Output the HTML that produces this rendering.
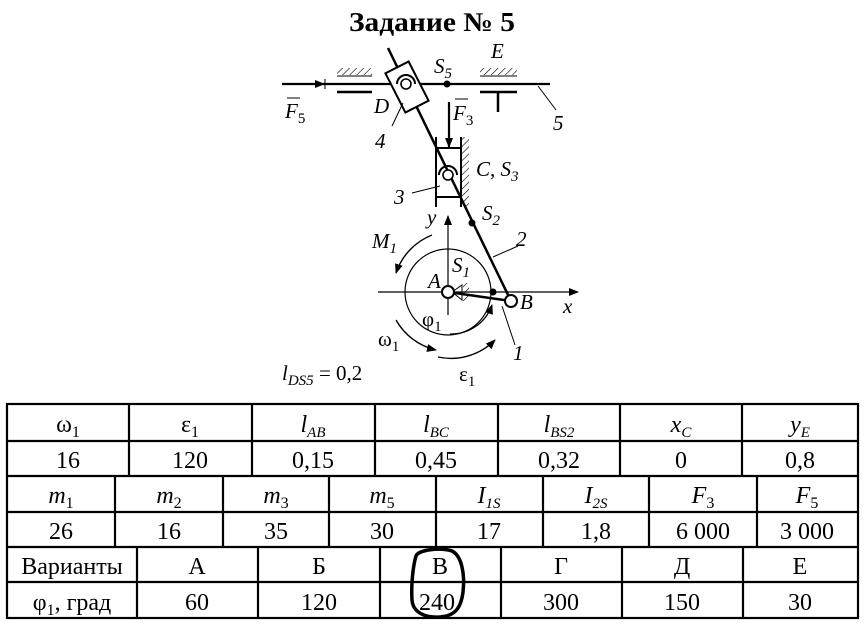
<!DOCTYPE html>
<html><head><meta charset="utf-8"><style>
body{margin:0;background:#fff}
svg{display:block}
text{font-family:"Liberation Serif",serif;fill:#000}
.t{font-size:24px;text-anchor:middle}
.i{font-style:italic}
.l{font-size:21px;font-style:italic}
</style></head><body>
<svg width="868" height="632" viewBox="0 0 868 632" xmlns="http://www.w3.org/2000/svg">
<defs>
<pattern id="h" width="5" height="5" patternUnits="userSpaceOnUse" patternTransform="rotate(45)"><line x1="0" y1="0" x2="0" y2="5" stroke="#000" stroke-width="1.2"/></pattern>
<marker id="a" markerWidth="10" markerHeight="8" refX="9" refY="4" orient="auto" markerUnits="userSpaceOnUse"><path d="M0,0 L10,4 L0,8 Z" fill="#000"/></marker>
</defs>
<text x="432" y="31" font-size="27" font-weight="bold" text-anchor="middle" textLength="166" lengthAdjust="spacingAndGlyphs">Задание № 5</text>

<g stroke="#000" fill="none">
<line x1="282" y1="84" x2="550" y2="84" stroke-width="2.2"/>
<line x1="282" y1="84" x2="324" y2="84" stroke-width="2" marker-end="url(#a)"/>
<line x1="325" y1="79" x2="325" y2="89" stroke-width="1"/>
<rect x="337" y="68" width="35" height="7" fill="url(#h)" stroke="none"/>
<line x1="337" y1="76" x2="372" y2="76" stroke-width="1"/>
<line x1="337" y1="92" x2="372" y2="92" stroke-width="2.5"/>
<rect x="480" y="68" width="37" height="7" fill="url(#h)" stroke="none"/>
<line x1="480" y1="76" x2="517" y2="76" stroke-width="1"/>
<line x1="480" y1="92" x2="517" y2="92" stroke-width="2.5"/>
<line x1="498" y1="92" x2="498" y2="112" stroke-width="2.5"/>
<line x1="538" y1="86" x2="556" y2="110" stroke-width="1"/>
<line x1="388" y1="48" x2="511" y2="301" stroke-width="2.5"/>
<g transform="translate(407,87) rotate(-27)">
<rect x="-13" y="-22" width="26" height="44" fill="#fff" stroke-width="2"/>
</g>
<path d="M397,84 A9,9 0 0 1 415,84" stroke-width="2"/>
<circle cx="406" cy="84" r="5" fill="#fff" stroke-width="1.6"/>
<line x1="403" y1="103" x2="392" y2="126" stroke-width="1"/>
<line x1="436" y1="137" x2="436" y2="207" stroke-width="2"/>
<line x1="461" y1="137" x2="461" y2="207" stroke-width="2"/>
<line x1="436" y1="148" x2="461" y2="148" stroke-width="2"/>
<line x1="436" y1="197" x2="461" y2="197" stroke-width="2"/>
<rect x="462" y="137" width="7" height="70" fill="url(#h)" stroke="none"/>
<path d="M439,175 A9,9 0 0 1 457,175" stroke-width="2"/>
<circle cx="448" cy="175" r="5" fill="#fff" stroke-width="1.6"/>
<line x1="412" y1="193" x2="440" y2="186" stroke-width="1"/>
<line x1="449" y1="102" x2="449" y2="147" stroke-width="2.2" marker-end="url(#a)"/>
<line x1="378" y1="292" x2="578" y2="292" stroke-width="1.2" marker-end="url(#a)"/>
<line x1="448" y1="315" x2="448" y2="216" stroke-width="1.2" marker-end="url(#a)"/>
<circle cx="448" cy="292" r="43" stroke-width="1.2"/>
<line x1="448" y1="292" x2="511" y2="301" stroke-width="2.5"/>
<path d="M452,292 L462,285 L462,300 Z" stroke-width="1"/>
<rect x="463" y="283" width="6" height="18" fill="url(#h)" stroke="none"/>
<circle cx="448" cy="292" r="6" fill="#fff" stroke-width="2"/>
<circle cx="511" cy="301" r="6" fill="#fff" stroke-width="2"/>
<line x1="502" y1="306" x2="515" y2="345" stroke-width="1"/>
<line x1="493" y1="257" x2="518" y2="246" stroke-width="1"/>
<path d="M432,235 A62,62 0 0 0 396,273" stroke-width="1.4" marker-end="url(#a)"/>
<path d="M396,320 A62,62 0 0 0 436,350" stroke-width="1.4" marker-end="url(#a)"/>
<path d="M438,357 A62,62 0 0 0 495,340" stroke-width="1.4" marker-end="url(#a)"/>
<path d="M450,334 A43,43 0 0 0 492,305" stroke-width="1.2" marker-end="url(#a)"/>
</g>
<circle cx="447" cy="84" r="3.5"/>
<circle cx="472" cy="223" r="3.5"/>
<circle cx="493" cy="292" r="3.5"/>

<text class="l" x="285" y="118">F<tspan font-size="15" dy="5" font-style="normal">5</tspan></text>
<line x1="287" y1="98" x2="300" y2="98" stroke="#000" stroke-width="1"/>
<text class="l" x="374" y="113">D</text>
<text class="l" x="375" y="148">4</text>
<text class="l" x="434" y="73">S<tspan font-size="15" dy="5">5</tspan></text>
<text class="l" x="491" y="58">E</text>
<text class="l" x="553" y="130">5</text>
<text class="l" x="453" y="120">F<tspan font-size="15" dy="5" font-style="normal">3</tspan></text>
<line x1="455" y1="99" x2="468" y2="99" stroke="#000" stroke-width="1"/>
<text class="l" x="476" y="176">C, S<tspan font-size="15" dy="5">3</tspan></text>
<text class="l" x="394" y="204">3</text>
<text class="l" x="427" y="224">y</text>
<text class="l" x="482" y="220">S<tspan font-size="15" dy="5">2</tspan></text>
<text class="l" x="516" y="246">2</text>
<text class="l" x="372" y="248">M<tspan font-size="15" dy="5">1</tspan></text>
<text class="l" x="452" y="272">S<tspan font-size="15" dy="5">1</tspan></text>
<text class="l" x="428" y="288">A</text>
<text class="l" x="520" y="309">B</text>
<text class="l" x="563" y="313">x</text>
<text x="422" y="326" font-size="21">φ<tspan font-size="15" dy="5">1</tspan></text>
<text class="l" x="513" y="360">1</text>
<text x="378" y="346" font-size="21">ω<tspan font-size="15" dy="5">1</tspan></text>
<text x="459" y="381" font-size="21">ε<tspan font-size="15" dy="5">1</tspan></text>
<text x="282" y="380" font-size="21"><tspan font-style="italic">l</tspan><tspan font-size="15" dy="5" font-style="italic">DS5</tspan><tspan dy="-5"> = 0,2</tspan></text>

<g stroke="#000" stroke-width="2.2" fill="none">
<rect x="7" y="404" width="851" height="214"/>
<line x1="7" y1="441" x2="858" y2="441"/>
<line x1="7" y1="476" x2="858" y2="476"/>
<line x1="7" y1="512" x2="858" y2="512"/>
<line x1="7" y1="547" x2="858" y2="547"/>
<line x1="7" y1="582" x2="858" y2="582"/>
<path d="M129,404V476M252,404V476M375,404V476M498,404V476M620,404V476M742,404V476"/>
<path d="M115,476V547M223,476V547M329,476V547M436,476V547M543,476V547M649,476V547M757,476V547"/>
<path d="M137,547V618M258,547V618M380,547V618M501,547V618M622,547V618M743,547V618"/>
</g>
<g>
<text class="t" x="68" y="432">ω<tspan font-size="16" dy="5">1</tspan></text>
<text class="t" x="190" y="432">ε<tspan font-size="16" dy="5">1</tspan></text>
<text class="t i" x="313" y="432">l<tspan font-size="15" dy="5">AB</tspan></text>
<text class="t i" x="436" y="432">l<tspan font-size="15" dy="5">BC</tspan></text>
<text class="t i" x="559" y="432">l<tspan font-size="15" dy="5">BS2</tspan></text>
<text class="t i" x="681" y="432">x<tspan font-size="15" dy="5">C</tspan></text>
<text class="t i" x="800" y="432">y<tspan font-size="15" dy="5">E</tspan></text>
<text class="t" x="68" y="468">16</text>
<text class="t" x="190" y="468">120</text>
<text class="t" x="313" y="468">0,15</text>
<text class="t" x="436" y="468">0,45</text>
<text class="t" x="559" y="468">0,32</text>
<text class="t" x="681" y="468">0</text>
<text class="t" x="800" y="468">0,8</text>
<text class="t i" x="61" y="503">m<tspan font-size="16" dy="5" font-style="normal">1</tspan></text>
<text class="t i" x="169" y="503">m<tspan font-size="16" dy="5" font-style="normal">2</tspan></text>
<text class="t i" x="276" y="503">m<tspan font-size="16" dy="5" font-style="normal">3</tspan></text>
<text class="t i" x="382" y="503">m<tspan font-size="16" dy="5" font-style="normal">5</tspan></text>
<text class="t i" x="489" y="503">I<tspan font-size="15" dy="5">1S</tspan></text>
<text class="t i" x="596" y="503">I<tspan font-size="15" dy="5">2S</tspan></text>
<text class="t i" x="703" y="503">F<tspan font-size="16" dy="5" font-style="normal">3</tspan></text>
<text class="t i" x="807" y="503">F<tspan font-size="16" dy="5" font-style="normal">5</tspan></text>
<text class="t" x="61" y="539">26</text>
<text class="t" x="169" y="539">16</text>
<text class="t" x="276" y="539">35</text>
<text class="t" x="382" y="539">30</text>
<text class="t" x="489" y="539">17</text>
<text class="t" x="596" y="539">1,8</text>
<text class="t" x="703" y="539">6 000</text>
<text class="t" x="807" y="539">3 000</text>
<text class="t" x="72" y="574">Варианты</text>
<text class="t" x="197" y="574">А</text>
<text class="t" x="319" y="574">Б</text>
<text class="t" x="440" y="574">В</text>
<text class="t" x="561" y="574">Г</text>
<text class="t" x="682" y="574">Д</text>
<text class="t" x="800" y="574">Е</text>
<text class="t" x="72" y="610">φ<tspan font-size="16" dy="5">1</tspan><tspan dy="-5">, град</tspan></text>
<text class="t" x="197" y="610">60</text>
<text class="t" x="319" y="610">120</text>
<text class="t" x="437" y="610">240</text>
<text class="t" x="561" y="610">300</text>
<text class="t" x="682" y="610">150</text>
<text class="t" x="800" y="610">30</text>
</g>
<path d="M416,556 C418,550 440,547 452,551 C462,556 465,575 463,592 C461,608 455,616 440,617 C424,618 413,612 412,600 C411,585 413,566 416,556 Z" fill="none" stroke="#000" stroke-width="3.5"/>
</svg>
</body></html>
